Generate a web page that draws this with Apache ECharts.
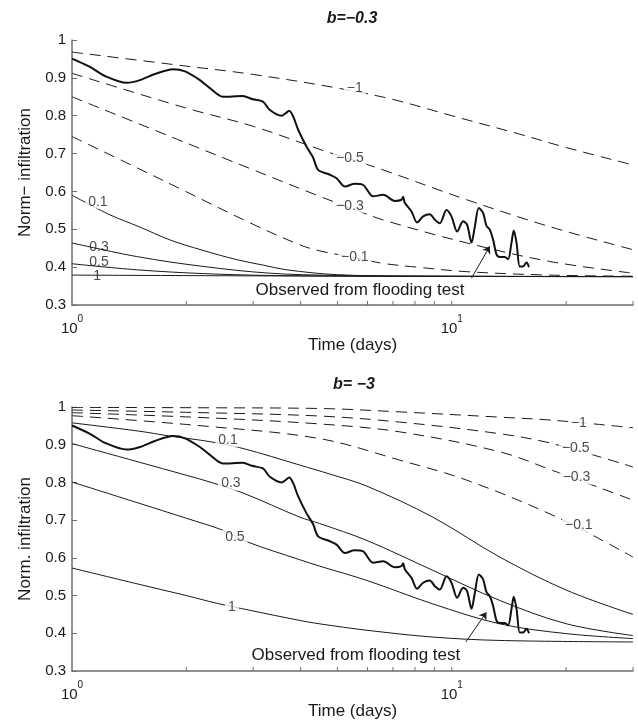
<!DOCTYPE html>
<html>
<head>
<meta charset="utf-8">
<script src="https://cdn.jsdelivr.net/npm/echarts@6/dist/echarts.min.js"></script>
<style>html,body{margin:0;padding:0;background:#fff}#c{width:638px;height:722px}</style>
</head>
<body>
<div id="c"></div>
<script>
// ---- Observed curve (same in both panels) ----
const obsT = [1.0, 1.115, 1.221, 1.393, 1.51, 1.654, 1.845, 1.984, 2.172, 2.307, 2.497, 2.818, 2.977, 3.182, 3.319, 3.563, 3.658, 3.731, 3.823, 3.94, 4.146, 4.315, 4.448, 4.775, 4.973, 5.229, 5.555, 5.842, 6.207, 6.597, 7.079, 7.373, 7.444, 7.52, 7.833, 8.104, 8.404, 8.753, 9.023, 9.299, 9.683, 9.98, 10.33, 10.71, 10.97, 11.27, 11.5, 11.78, 12.09, 12.34, 12.59, 12.85, 13.12, 13.38, 13.79, 14.07, 14.36, 14.56, 14.81, 15.1, 15.4, 15.73, 15.97];
const obsV = [0.951, 0.929, 0.905, 0.887, 0.894, 0.910, 0.923, 0.917, 0.894, 0.873, 0.850, 0.852, 0.844, 0.837, 0.815, 0.800, 0.807, 0.813, 0.798, 0.763, 0.718, 0.689, 0.657, 0.644, 0.635, 0.613, 0.620, 0.617, 0.587, 0.591, 0.575, 0.578, 0.586, 0.570, 0.547, 0.518, 0.534, 0.540, 0.525, 0.516, 0.551, 0.534, 0.494, 0.521, 0.512, 0.465, 0.507, 0.556, 0.543, 0.509, 0.499, 0.472, 0.433, 0.427, 0.427, 0.421, 0.464, 0.497, 0.464, 0.402, 0.402, 0.412, 0.400];

// ---- Top panel: b = -0.3 ----
const topS01T = [1, 1.26, 1.5, 1.81, 2.2, 2.71, 3.2, 3.67, 5, 8, 30];
const topS01V = [0.59, 0.538, 0.507, 0.472, 0.445, 0.420, 0.405, 0.393, 0.380, 0.376, 0.375];
const topS03T = [1, 1.48, 2.21, 3.32, 5, 8, 30];
const topS03V = [0.464, 0.428, 0.402, 0.384, 0.378, 0.376, 0.375];
const topS05T = [1, 1.48, 2.21, 3.32, 6, 30];
const topS05V = [0.409, 0.393, 0.383, 0.378, 0.376, 0.375];
const topS1T = [1, 3, 10, 30];
const topS1V = [0.379, 0.377, 0.376, 0.375];
const topDm1T = [1, 2, 3, 5, 7, 10, 15, 20, 30];
const topDm1V = [0.968, 0.931, 0.909, 0.873, 0.843, 0.800, 0.752, 0.716, 0.670];
const topDm05T = [1, 2, 3, 4.68, 5.39, 6.585, 10.95, 18.1, 30];
const topDm05V = [0.912, 0.82, 0.772, 0.705, 0.686, 0.657, 0.578, 0.507, 0.446];
const topDm03T = [1, 2, 3, 4.49, 5.39, 6.585, 10.95, 18.1, 30];
const topDm03V = [0.850, 0.728, 0.657, 0.587, 0.557, 0.525, 0.464, 0.415, 0.384];
const topDm01T = [1, 1.5, 2, 3, 3.98, 4.49, 5.56, 6.585, 8.1, 10.95, 18.1, 30];
const topDm01V = [0.745, 0.660, 0.599, 0.513, 0.459, 0.443, 0.425, 0.410, 0.400, 0.388, 0.379, 0.376];

// ---- Bottom panel: b = -3 ----
const botS01T = [1, 1.5, 1.81, 2.31, 2.82, 3.98, 4.78, 5.98, 8.91, 13.38, 20.07, 30];
const botS01V = [0.958, 0.936, 0.923, 0.908, 0.890, 0.846, 0.822, 0.790, 0.708, 0.602, 0.514, 0.450];
const botS03T = [1, 1.5, 2, 2.31, 2.82, 3.98, 4.49, 5.98, 8.91, 13.38, 20.07, 30];
const botS03V = [0.903, 0.854, 0.819, 0.801, 0.772, 0.708, 0.691, 0.646, 0.567, 0.487, 0.425, 0.394];
const botS05T = [1, 1.5, 2, 2.5, 2.9, 3.98, 4.49, 5.98, 8.91, 13.38, 20.07, 30];
const botS05V = [0.801, 0.745, 0.705, 0.673, 0.642, 0.595, 0.578, 0.540, 0.478, 0.425, 0.399, 0.386];
const botS1T = [1, 1.5, 2, 2.42, 2.94, 3.98, 4.49, 5.98, 8.91, 13.38, 30];
const botS1V = [0.573, 0.530, 0.500, 0.479, 0.461, 0.434, 0.425, 0.408, 0.390, 0.381, 0.377];
const botDm1T = [1, 2.2, 4.5, 7.3, 13.4, 18.4, 30];
const botDm1V = [0.999, 0.998, 0.996, 0.987, 0.973, 0.965, 0.945];
const botDm05T = [1, 2.2, 4.5, 7.3, 13.4, 18.4, 30];
const botDm05V = [0.992, 0.985, 0.976, 0.960, 0.929, 0.903, 0.841];
const botDm03T = [1, 2.2, 4.5, 7.3, 13.4, 18.4, 30];
const botDm03V = [0.985, 0.972, 0.955, 0.934, 0.881, 0.832, 0.753];
const botDm01T = [1, 2.2, 4.5, 7.3, 10.95, 18.9, 30];
const botDm01V = [0.977, 0.950, 0.916, 0.859, 0.806, 0.708, 0.602];

// ---- Curve labels: [text, t, value, gap] ----
const topLabels = [['0.1', 1.17, 0.573, true], ['0.3', 1.178, 0.454, false], ['0.5', 1.178, 0.414, false], ['1', 1.164, 0.377, false],
                   ['\u22121', 5.555, 0.873, true], ['\u22120.5', 5.39, 0.689, true], ['\u22120.3', 5.39, 0.562, true], ['\u22120.1', 5.555, 0.427, true]];
const botLabels = [['0.1', 2.574, 0.912, true], ['0.3', 2.62, 0.797, true], ['0.5', 2.685, 0.655, true], ['1', 2.636, 0.469, true],
                   ['\u22121', 21.6, 0.958, true], ['\u22120.5', 21.2, 0.890, true], ['\u22120.3', 21.3, 0.813, true], ['\u22120.1', 21.6, 0.686, true]];
const obsText = 'Observed from flooding test';
const topObsTextPos = [5.73, 0.338];
const botObsTextPos = [5.59, 0.341];
const topArrow = [[11.27, 0.371], [12.59, 0.455]];
const botArrow = [[10.89, 0.377], [12.34, 0.456]];

// ---- Axes text ----
const titles = ['b=\u22120.3', 'b= \u22123'];
const yNames = ['Norm\u2212 infiltration', 'Norm. infiltration'];
const xName = 'Time (days)';
const xTickVals = [2, 3, 4, 5, 6, 7, 8, 9, 10, 20, 30];

const FONT = 'Liberation Sans, Arial, Helvetica, sans-serif';
const INK = '#1a1a1a';
const AXIS = '#6e6e6e';

function zip(t, v) { return t.map((x, i) => [x, v[i]]); }

function curve(t, v, idx, dashed) {
  return {
    type: 'line', xAxisIndex: idx, yAxisIndex: idx, data: zip(t, v),
    symbol: 'none', smooth: 0.35, silent: true, z: 2,
    lineStyle: { color: INK, width: 1, type: dashed ? [11, 7] : 'solid' }
  };
}

function labelSeries(labels, idx) {
  return {
    type: 'scatter', xAxisIndex: idx, yAxisIndex: idx, silent: true, z: 5,
    symbolSize: 0,
    data: labels.map(l => ({
      value: [l[1], l[2]],
      label: {
        show: true, position: 'inside', formatter: l[0], fontSize: 14, fontFamily: FONT, color: INK,
        backgroundColor: l[3] ? '#fff' : 'transparent', padding: [0, 3]
      }
    }))
  };
}

function obsSeries(idx, textPos, arrow) {
  return {
    type: 'line', xAxisIndex: idx, yAxisIndex: idx, data: zip(obsT, obsV),
    symbol: 'none', smooth: 0.3, silent: true, z: 4,
    lineStyle: { color: '#111', width: 2 },
    markPoint: {
      symbol: 'circle', symbolSize: 0, silent: true, z: 6,
      label: { show: true, position: 'inside', formatter: obsText, fontSize: 17, fontFamily: FONT, color: INK },
      data: [{ coord: textPos }]
    },
    markLine: {
      silent: true, symbol: ['none', 'arrow'], symbolSize: 7, z: 6,
      label: { show: false },
      lineStyle: { color: INK, width: 1, type: 'solid' },
      data: [[{ coord: arrow[0] }, { coord: arrow[1] }]]
    }
  };
}

function tickSeries(idx) {
  return {
    type: 'custom', xAxisIndex: idx, yAxisIndex: idx, silent: true, z: 3,
    data: xTickVals.map(t => [t, 0.3]),
    renderItem: function (params, api) {
      const p = api.coord([api.value(0), api.value(1)]);
      return { type: 'line', shape: { x1: p[0], y1: p[1], x2: p[0], y2: p[1] - 4 }, style: { stroke: AXIS, lineWidth: 1 } };
    }
  };
}

function xAxisDef(idx) {
  return {
    type: 'log', logBase: 10, min: 1, max: 30, gridIndex: idx,
    axisLine: { show: true, lineStyle: { color: AXIS, width: 1.5 } },
    axisTick: { show: false }, splitLine: { show: false }, minorTick: { show: false },
    axisLabel: {
      margin: 9, color: INK,
      formatter: function (v) {
        const e = Math.log10(v);
        if (Math.abs(e - Math.round(e)) < 1e-6) return '{b|10}{s|' + Math.round(e) + '}';
        return '';
      },
      rich: {
        b: { fontSize: 15, fontFamily: FONT, color: INK, lineHeight: 22, verticalAlign: 'bottom' },
        s: { fontSize: 10, fontFamily: FONT, color: INK, lineHeight: 10, verticalAlign: 'top' }
      }
    },
    name: xName, nameLocation: 'middle', nameGap: 32,
    nameTextStyle: { fontSize: 17, fontFamily: FONT, color: INK }
  };
}

function yAxisDef(idx) {
  return {
    type: 'value', min: 0.3, max: 1, interval: 0.1, gridIndex: idx,
    axisLine: { show: true, lineStyle: { color: AXIS, width: 1.5 } },
    axisTick: { show: true, inside: true, length: 5, lineStyle: { color: AXIS, width: 1 } },
    splitLine: { show: false },
    axisLabel: { fontSize: 15, fontFamily: FONT, color: INK, margin: 6 },
    name: yNames[idx], nameLocation: 'middle', nameGap: 38, nameRotate: 90,
    nameTextStyle: { fontSize: 17, fontFamily: FONT, color: INK }
  };
}

const series = [
  tickSeries(0),
  curve(topS01T, topS01V, 0, false), curve(topS03T, topS03V, 0, false),
  curve(topS05T, topS05V, 0, false), curve(topS1T, topS1V, 0, false),
  curve(topDm1T, topDm1V, 0, true), curve(topDm05T, topDm05V, 0, true),
  curve(topDm03T, topDm03V, 0, true), curve(topDm01T, topDm01V, 0, true),
  obsSeries(0, topObsTextPos, topArrow),
  labelSeries(topLabels, 0),
  tickSeries(1),
  curve(botS01T, botS01V, 1, false), curve(botS03T, botS03V, 1, false),
  curve(botS05T, botS05V, 1, false), curve(botS1T, botS1V, 1, false),
  curve(botDm1T, botDm1V, 1, true), curve(botDm05T, botDm05V, 1, true),
  curve(botDm03T, botDm03V, 1, true), curve(botDm01T, botDm01V, 1, true),
  obsSeries(1, botObsTextPos, botArrow),
  labelSeries(botLabels, 1)
];

const chart = echarts.init(document.getElementById('c'), null, { renderer: 'canvas' });
chart.setOption({
  animation: false,
  backgroundColor: '#fff',
  title: [
    { text: titles[0], left: 352, top: 11, textAlign: 'center', padding: 0,
      textStyle: { fontSize: 16, fontStyle: 'italic', fontWeight: 'bold', fontFamily: FONT, color: INK } },
    { text: titles[1], left: 354, top: 377, textAlign: 'center', padding: 0,
      textStyle: { fontSize: 16, fontStyle: 'italic', fontWeight: 'bold', fontFamily: FONT, color: INK } }
  ],
  grid: [
    { left: 72, right: 5, top: 40, height: 265 },
    { left: 72, right: 5, top: 407, height: 264 }
  ],
  xAxis: [xAxisDef(0), xAxisDef(1)],
  yAxis: [yAxisDef(0), yAxisDef(1)],
  series: series
});
</script>
</body>
</html>
